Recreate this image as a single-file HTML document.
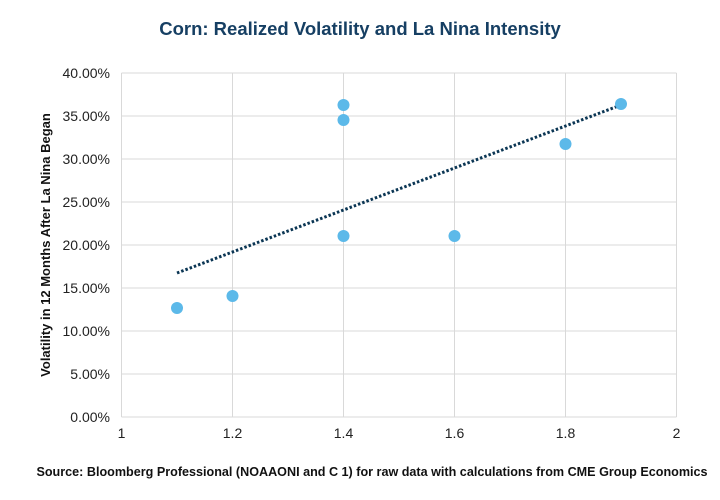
<!DOCTYPE html>
<html><head><meta charset="utf-8"><style>
body{margin:0;background:#fff;}
svg{display:block;font-family:"Liberation Sans",sans-serif;}
</style></head><body>
<svg width="720" height="500" viewBox="0 0 720 500">
<rect width="720" height="500" fill="#fff"/>
<text x="360" y="35" text-anchor="middle" font-size="18.5" font-weight="bold" fill="#163f63">Corn: Realized Volatility and La Nina Intensity</text>
<g stroke="#d9d9d9" stroke-width="1">
<line x1="121.5" y1="73" x2="676.5" y2="73"/>
<line x1="121.5" y1="116" x2="676.5" y2="116"/>
<line x1="121.5" y1="159" x2="676.5" y2="159"/>
<line x1="121.5" y1="202" x2="676.5" y2="202"/>
<line x1="121.5" y1="245" x2="676.5" y2="245"/>
<line x1="121.5" y1="288" x2="676.5" y2="288"/>
<line x1="121.5" y1="331" x2="676.5" y2="331"/>
<line x1="121.5" y1="374" x2="676.5" y2="374"/>
<line x1="121.5" y1="417" x2="676.5" y2="417"/>
<line x1="121.5" y1="73" x2="121.5" y2="417"/>
<line x1="232.5" y1="73" x2="232.5" y2="417"/>
<line x1="343.5" y1="73" x2="343.5" y2="417"/>
<line x1="454.5" y1="73" x2="454.5" y2="417"/>
<line x1="565.5" y1="73" x2="565.5" y2="417"/>
<line x1="676.5" y1="73" x2="676.5" y2="417"/>
</g>
<g font-size="14" fill="#222" text-anchor="end">
<text x="110" y="78">40.00%</text>
<text x="110" y="121">35.00%</text>
<text x="110" y="164">30.00%</text>
<text x="110" y="207">25.00%</text>
<text x="110" y="250">20.00%</text>
<text x="110" y="293">15.00%</text>
<text x="110" y="336">10.00%</text>
<text x="110" y="379">5.00%</text>
<text x="110" y="422">0.00%</text>
</g>
<g font-size="14" fill="#222" text-anchor="middle">
<text x="121.5" y="438">1</text>
<text x="232.5" y="438">1.2</text>
<text x="343.5" y="438">1.4</text>
<text x="454.5" y="438">1.6</text>
<text x="565.5" y="438">1.8</text>
<text x="676.5" y="438">2</text>
</g>
<text transform="translate(50,245) rotate(-90)" text-anchor="middle" font-size="13" font-weight="bold" fill="#111">Volatility in 12 Months After La Nina Began</text>
<line x1="177" y1="273" x2="621" y2="105" stroke="#0b3654" stroke-width="3" stroke-dasharray="2.5 2"/>
<g fill="#5cb9e9">
<circle cx="177" cy="308" r="6"/>
<circle cx="232.5" cy="296" r="6"/>
<circle cx="343.5" cy="105" r="6"/>
<circle cx="343.5" cy="120" r="6"/>
<circle cx="343.5" cy="236" r="6"/>
<circle cx="454.5" cy="236" r="6"/>
<circle cx="565.5" cy="144" r="6"/>
<circle cx="621" cy="104" r="6"/>
</g>
<text x="372" y="476" text-anchor="middle" font-size="12.6" font-weight="bold" fill="#111">Source: Bloomberg Professional (NOAAONI and C 1) for raw data with calculations from CME Group Economics</text>
</svg>
</body></html>
